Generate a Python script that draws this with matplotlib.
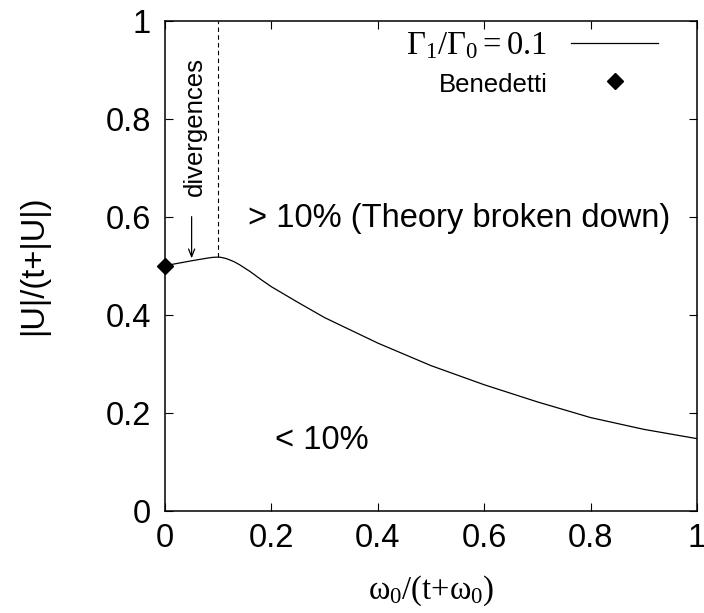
import numpy as np
import matplotlib
matplotlib.use('Agg')
import matplotlib.pyplot as plt

plt.rcParams['font.family'] = ['Liberation Sans', 'DejaVu Sans']
plt.rcParams['mathtext.fontset'] = 'custom'
plt.rcParams['mathtext.rm'] = 'Liberation Serif'
plt.rcParams['mathtext.it'] = 'Liberation Serif'
plt.rcParams['mathtext.bf'] = 'Liberation Serif:bold'

# curve Gamma1/Gamma0 = 0.1
x_curve = [0.0, 0.05, 0.08, 0.09, 0.10, 0.105, 0.11, 0.115, 0.12, 0.13, 0.14, 0.15,
           0.16, 0.17, 0.18, 0.20, 0.25, 0.30, 0.40, 0.50, 0.60, 0.70, 0.80, 0.90, 1.00]
y_curve = [0.500, 0.510, 0.5155, 0.517, 0.5175, 0.517, 0.5158, 0.5145, 0.5125, 0.508,
           0.502, 0.495, 0.488, 0.480, 0.472, 0.457, 0.425, 0.394, 0.342, 0.296, 0.257,
           0.222, 0.190, 0.166, 0.147]
# Benedetti point
x_bene = [0.0]
y_bene = [0.5]
# where the divergences start
x_div = 0.1
x_arrow = 0.05

xticks = [0, 0.2, 0.4, 0.6, 0.8, 1]
yticks = [0, 0.2, 0.4, 0.6, 0.8, 1]
xtick_labels = ['0', '0.2', '0.4', '0.6', '0.8', '1']
ytick_labels = ['0', '0.2', '0.4', '0.6', '0.8', '1']

big = 23.5
small = 18.5

fig = plt.figure(figsize=(7.04, 6.13), dpi=100)
ax = fig.add_axes([0.2344, 0.1669, 0.7557, 0.7994])

line, = ax.plot(x_curve, y_curve, color='k', lw=0.9, label=r'$\Gamma_1/\Gamma_0 = 0.1$')
pts, = ax.plot(x_bene, y_bene, linestyle='none', marker='D', ms=8.5, color='k',
               clip_on=False, zorder=5, label='Benedetti')

# dashed line from the peak of the curve up to the top
y_peak = np.interp(x_div, x_curve, y_curve)
ax.plot([x_div, x_div], [y_peak, 1], color='k', lw=0.8, linestyle=(0, (4, 3)))

# arrow + label
ax.annotate('', xy=(x_arrow, np.interp(x_arrow, x_curve, y_curve) + 0.005),
            xytext=(x_arrow, 0.60),
            arrowprops=dict(arrowstyle='->,head_length=0.55,head_width=0.22',
                            color='k', lw=0.9, shrinkA=0, shrinkB=0))
ax.text(0.057, 0.643, 'divergences', rotation=90, ha='center', va='bottom', fontsize=small)

ax.text(0.156, 0.597, '> 10% (Theory broken down)', ha='left', va='center', fontsize=big)
ax.text(0.207, 0.144, '< 10%', ha='left', va='center', fontsize=big)

ax.set_xlim(0, 1)
ax.set_ylim(0, 1)
ax.set_xticks(xticks)
ax.set_xticklabels(xtick_labels)
ax.set_yticks(yticks)
ax.set_yticklabels(ytick_labels)
ax.tick_params(direction='in', top=True, right=True, length=5.8, width=0.8,
               labelsize=big)
ax.tick_params(axis='x', pad=9)
ax.tick_params(axis='y', pad=10)
for s in ax.spines.values():
    s.set_linewidth(1.1)

ax.set_xlabel(r'$\omega_0/(\mathrm{t}{+}\omega_0)$', fontsize=big, labelpad=14)
ax.set_ylabel('|U|/(t+|U|)', fontsize=big, labelpad=41)

leg = ax.legend(handles=[line, pts], loc='upper right', bbox_to_anchor=(0.926, 0.981),
                frameon=False, markerfirst=False, fontsize=big, handlelength=2.64,
                handletextpad=0.73, labelspacing=0.25, borderpad=0, borderaxespad=0)
leg.get_texts()[1].set_fontsize(small)

fig.savefig('out.png', dpi=100)
